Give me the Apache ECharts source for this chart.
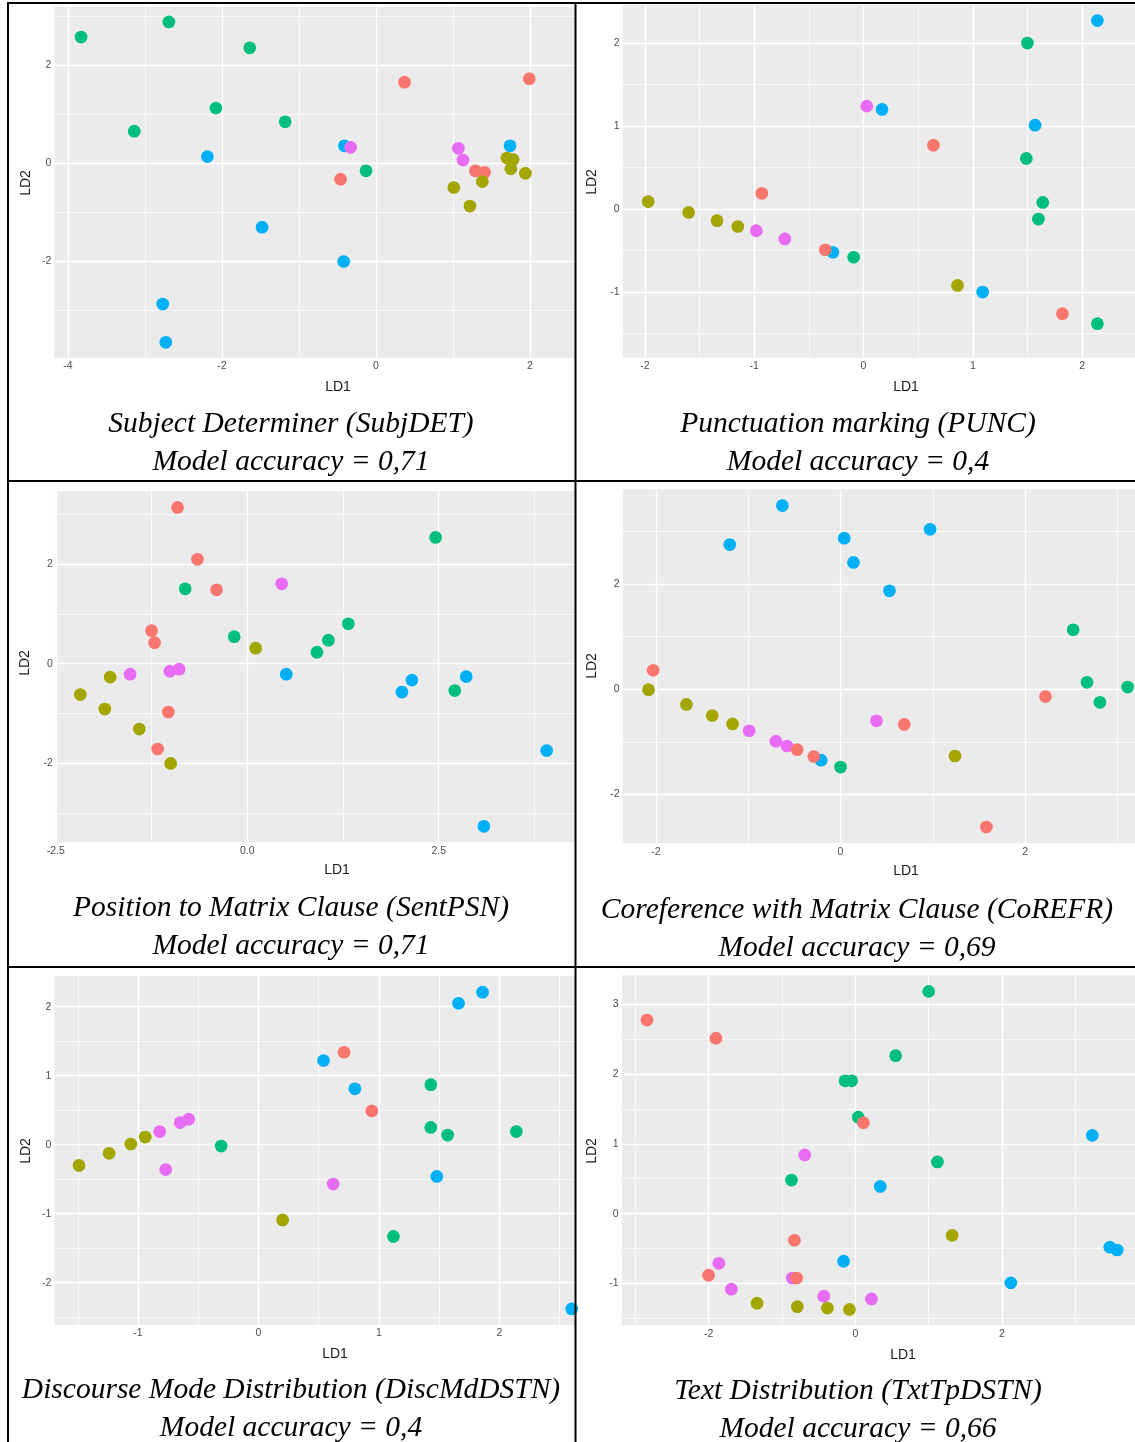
<!DOCTYPE html>
<html><head><meta charset="utf-8">
<script src="https://cdn.jsdelivr.net/npm/echarts@6/dist/echarts.min.js"></script>
<style>html,body{margin:0;padding:0;background:#fff}#c{width:1135px;height:1442px}</style>
</head><body><div id="c"></div><script>
// ---------- DATA ----------
// Panel 1: Subject Determiner (SubjDET)
const subjRed   = [[-0.46,-0.33],[0.37,1.65],[1.99,1.72],[1.29,-0.16],[1.41,-0.19]];
const subjOlive = [[1.01,-0.50],[1.22,-0.88],[1.38,-0.38],[1.70,0.10],[1.78,0.07],[1.75,-0.12],[1.94,-0.21]];
const subjGreen = [[-3.83,2.57],[-2.69,2.88],[-1.64,2.35],[-2.08,1.12],[-3.14,0.65],[-1.18,0.84],[-0.13,-0.16]];
const subjBlue  = [[-2.19,0.13],[-0.41,0.35],[-1.48,-1.31],[-0.42,-2.01],[-2.77,-2.88],[-2.73,-3.66],[1.74,0.35]];
const subjPink  = [[-0.33,0.32],[1.07,0.30],[1.13,0.06]];
// Panel 2: Punctuation marking (PUNC)
const puncRed   = [[-0.93,0.19],[-0.35,-0.49],[0.64,0.77],[1.82,-1.26]];
const puncOlive = [[-1.97,0.09],[-1.60,-0.04],[-1.34,-0.14],[-1.15,-0.21],[0.86,-0.92]];
const puncGreen = [[-0.09,-0.58],[1.50,2.00],[1.49,0.61],[1.64,0.08],[1.60,-0.12],[2.14,-1.38]];
const puncBlue  = [[-0.28,-0.52],[0.17,1.20],[1.57,1.01],[1.09,-1.00],[2.14,2.27]];
const puncPink  = [[-0.98,-0.26],[-0.72,-0.36],[0.03,1.24]];
// Panel 3: Position to Matrix Clause (SentPSN)
const sentRed   = [[-0.91,3.13],[-0.65,2.09],[-0.40,1.48],[-1.25,0.66],[-1.21,0.42],[-1.03,-0.97],[-1.17,-1.71]];
const sentOlive = [[0.11,0.31],[-1.79,-0.27],[-2.18,-0.62],[-1.86,-0.91],[-1.41,-1.31],[-1.00,-2.00]];
const sentGreen = [[-0.81,1.50],[-0.17,0.54],[2.46,2.53],[1.32,0.80],[1.06,0.47],[0.91,0.23],[2.71,-0.54]];
const sentBlue  = [[0.51,-0.21],[2.15,-0.33],[2.02,-0.57],[2.86,-0.26],[3.91,-1.74],[3.09,-3.26]];
const sentPink  = [[-1.53,-0.21],[-1.01,-0.15],[-0.89,-0.11],[0.45,1.60]];
// Panel 4: Coreference with Matrix Clause (CoREFR)
const corRed    = [[-2.03,0.36],[-0.47,-1.15],[-0.29,-1.28],[0.69,-0.67],[2.22,-0.14],[1.58,-2.62]];
const corOlive  = [[-2.08,-0.01],[-1.67,-0.29],[-1.39,-0.50],[-1.17,-0.66],[1.24,-1.27]];
const corGreen  = [[0.00,-1.48],[2.52,1.13],[2.67,0.13],[2.81,-0.25],[3.11,0.04],[3.20,-0.85]];
const corBlue   = [[-0.63,3.49],[-1.20,2.75],[0.04,2.87],[0.14,2.41],[0.97,3.04],[0.53,1.87],[-0.21,-1.35]];
const corPink   = [[-0.99,-0.79],[-0.70,-0.99],[-0.58,-1.08],[0.39,-0.60]];
// Panel 5: Discourse Mode Distribution (DiscMdDSTN)
const discRed   = [[0.71,1.34],[0.94,0.49]];
const discOlive = [[-1.49,-0.30],[-1.24,-0.125],[-1.06,0.01],[-0.94,0.11],[0.20,-1.09]];
const discGreen = [[-0.31,-0.02],[1.43,0.87],[1.43,0.25],[1.57,0.14],[2.14,0.19],[1.12,-1.33]];
const discBlue  = [[0.54,1.22],[0.80,0.81],[1.66,2.05],[1.86,2.21],[1.48,-0.46],[2.60,-2.38]];
const discPink  = [[-0.82,0.19],[-0.65,0.32],[-0.58,0.37],[-0.77,-0.36],[0.62,-0.57]];
// Panel 6: Text Distribution (TxtTpDSTN)
const txtRed    = [[-2.84,2.77],[-1.90,2.51],[0.11,1.30],[-0.83,-0.38],[-2.00,-0.88],[-0.80,-0.92]];
const txtOlive  = [[-1.34,-1.28],[-0.79,-1.33],[-0.38,-1.35],[-0.08,-1.37],[1.32,-0.31]];
const txtGreen  = [[-0.87,0.48],[-0.14,1.90],[-0.05,1.90],[0.04,1.38],[1.00,3.18],[0.55,2.26],[1.12,0.74]];
const txtBlue   = [[-0.16,-0.68],[0.34,0.39],[3.23,1.12],[3.47,-0.48],[3.57,-0.52],[2.12,-0.99]];
const txtPink   = [[-0.69,0.84],[-1.86,-0.71],[-1.69,-1.08],[-0.86,-0.92],[-0.43,-1.18],[0.22,-1.22]];

// tick labels
const p1XTicks = [-4,-2,0,2],        p1YTicks = [-2,0,2];
const p2XTicks = [-2,-1,0,1,2],      p2YTicks = [-1,0,1,2];
const p3XTicks = [-2.5,0,2.5],       p3YTicks = [-2,0,2];
const p4XTicks = [-2,0,2],           p4YTicks = [-2,0,2];
const p5XTicks = [-1,0,1,2],         p5YTicks = [-2,-1,0,1,2];
const p6XTicks = [-2,0,2],           p6YTicks = [-1,0,1,2,3];

const captions = [
  ['Subject Determiner (SubjDET)','Model accuracy = 0,71'],
  ['Punctuation marking (PUNC)','Model accuracy = 0,4'],
  ['Position to Matrix Clause (SentPSN)','Model accuracy = 0,71'],
  ['Coreference with Matrix Clause (CoREFR)','Model accuracy = 0,69'],
  ['Discourse Mode Distribution (DiscMdDSTN)','Model accuracy = 0,4'],
  ['Text Distribution (TxtTpDSTN)','Model accuracy = 0,66']
];

// ---------- LAYOUT ----------
const COL = {red:'#F8766D', olive:'#A3A500', green:'#00BF7D', blue:'#00B0F6', pink:'#E76BF3'};
const panels = [
  {grid:{left:54.3,top:6.7,width:520.7,height:351.3}, x:[-4.178,2.584], y:[-3.98,3.19],
   xt:p1XTicks, yt:p1YTicks, xm:[-3,-1,1], ym:[-3,-1,1,3],
   groups:{red:subjRed,olive:subjOlive,green:subjGreen,blue:subjBlue,pink:subjPink},
   ld1:[338,387], ld2:[26,183], cap:[291,424]},
  {grid:{left:622.7,top:5,width:512.3,height:352.7}, x:[-2.203,2.484], y:[-1.79,2.458],
   xt:p2XTicks, yt:p2YTicks, xm:[-1.5,-0.5,0.5,1.5], ym:[-1.5,-0.5,0.5,1.5],
   groups:{red:puncRed,olive:puncOlive,green:puncGreen,blue:puncBlue,pink:puncPink},
   ld1:[906,387], ld2:[592,182], cap:[858,424]},
  {grid:{left:55.8,top:491,width:519.2,height:351.3}, x:[-2.5,4.28], y:[-3.58,3.46],
   xt:p3XTicks, yt:p3YTicks, xm:[-1.25,1.25,3.75], ym:[-3,-1,1,3], xfix:1,
   groups:{red:sentRed,olive:sentOlive,green:sentGreen,blue:sentBlue,pink:sentPink},
   ld1:[337,870], ld2:[25.5,663], cap:[291,908]},
  {grid:{left:622.7,top:489.3,width:512.3,height:354}, x:[-2.36,3.19], y:[-2.93,3.80],
   xt:p4XTicks, yt:p4YTicks, xm:[-1,1,3], ym:[-1,1,3],
   groups:{red:corRed,olive:corOlive,green:corGreen,blue:corBlue,pink:corPink},
   ld1:[906,871], ld2:[592,666], cap:[857,910]},
  {grid:{left:54.3,top:976,width:520.7,height:349}, x:[-1.695,2.627], y:[-2.613,2.445],
   xt:p5XTicks, yt:p5YTicks, xm:[-1.5,-0.5,0.5,1.5,2.5], ym:[-2.5,-1.5,-0.5,0.5,1.5],
   groups:{red:discRed,olive:discOlive,green:discGreen,blue:discBlue,pink:discPink},
   ld1:[335,1354], ld2:[26,1151], cap:[291,1390]},
  {grid:{left:621.7,top:975.3,width:513.3,height:350}, x:[-3.185,3.813], y:[-1.597,3.41],
   xt:p6XTicks, yt:p6YTicks, xm:[-3,-1,1,3], ym:[-1.5,-0.5,0.5,1.5,2.5],
   groups:{red:txtRed,olive:txtOlive,green:txtGreen,blue:txtBlue,pink:txtPink},
   ld1:[903,1355], ld2:[592,1151], cap:[858,1391]}
];

const grids=[], xAxes=[], yAxes=[], series=[], graphics=[];
const tickStyle = {color:'#4D4D4D', fontSize:10.5, fontFamily:'Liberation Sans, Arial, sans-serif'};
const order = ['blue','green','pink','red','olive'];
const capFont = 'italic 29.5px "Liberation Serif", serif';

panels.forEach((p,i)=>{
  grids.push(Object.assign({show:true, backgroundColor:'#EBEBEB', borderWidth:0, containLabel:false}, p.grid));
  xAxes.push({type:'value', gridIndex:i, min:p.x[0], max:p.x[1], position:'bottom',
    axisLine:{show:false}, splitLine:{show:false},
    axisTick:{show:true, length:2.7, lineStyle:{color:'#333', width:1}, customValues:p.xt},
    axisLabel:Object.assign({margin:3, customValues:p.xt,
      formatter:v=> p.xfix ? Number(v).toFixed(1) : String(v)}, tickStyle)});
  yAxes.push({type:'value', gridIndex:i, min:p.y[0], max:p.y[1],
    axisLine:{show:false}, splitLine:{show:false},
    axisTick:{show:true, length:2.7, lineStyle:{color:'#333', width:1}, customValues:p.yt},
    axisLabel:Object.assign({margin:3, customValues:p.yt}, tickStyle)});
  const ml = [];
  p.xm.forEach(v=>ml.push({xAxis:v, lineStyle:{color:'#fff', width:0.7, type:'solid'}}));
  p.ym.forEach(v=>ml.push({yAxis:v, lineStyle:{color:'#fff', width:0.7, type:'solid'}}));
  p.xt.forEach(v=>ml.push({xAxis:v, lineStyle:{color:'#fff', width:1.4, type:'solid'}}));
  p.yt.forEach(v=>ml.push({yAxis:v, lineStyle:{color:'#fff', width:1.4, type:'solid'}}));
  series.push({type:'scatter', xAxisIndex:i, yAxisIndex:i, data:[], z:1, silent:true,
    markLine:{silent:true, symbol:['none','none'], label:{show:false}, animation:false, data:ml}});
  order.forEach(g=>{
    series.push({type:'scatter', xAxisIndex:i, yAxisIndex:i, z:5, symbolSize:12.7,
      itemStyle:{color:COL[g], opacity:1}, data:p.groups[g], animation:false});
  });
  graphics.push({type:'text', x:p.ld1[0], y:p.ld1[1], z:10,
    style:{text:'LD1', fill:'#1a1a1a', font:'14px "Liberation Sans", Arial, sans-serif', textAlign:'center', textVerticalAlign:'middle'}});
  graphics.push({type:'text', x:p.ld2[0], y:p.ld2[1], rotation:Math.PI/2, z:10,
    style:{text:'LD2', fill:'#1a1a1a', font:'14px "Liberation Sans", Arial, sans-serif', textAlign:'center', textVerticalAlign:'middle'}});
  graphics.push({type:'text', x:p.cap[0], y:p.cap[1], z:10,
    style:{text:captions[i][0], fill:'#000', font:capFont, textAlign:'center', textVerticalAlign:'middle'}});
  graphics.push({type:'text', x:p.cap[0], y:p.cap[1]+38, z:10,
    style:{text:captions[i][1], fill:'#000', font:capFont, textAlign:'center', textVerticalAlign:'middle'}});
});

// table borders
const L = (x1,y1,x2,y2)=>({type:'line', z:20, shape:{x1,y1,x2,y2}, style:{stroke:'#000', lineWidth:2}});
graphics.push(L(8,3,1135,3), L(8,2,8,1442), L(575.5,2,575.5,1442), L(8,481,1135,481), L(8,967,1135,967));

const chart = echarts.init(document.getElementById('c'), null, {renderer:'canvas'});
chart.setOption({animation:false, grid:grids, xAxis:xAxes, yAxis:yAxes, series, graphic:{elements:graphics}});
</script></body></html>
